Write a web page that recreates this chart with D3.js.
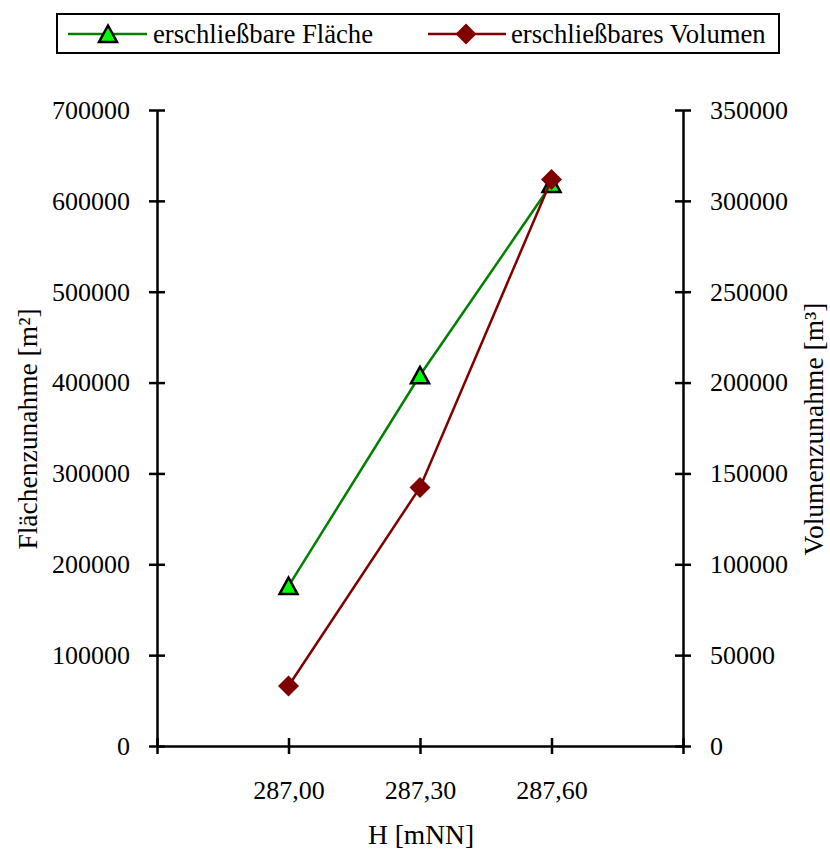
<!DOCTYPE html>
<html>
<head>
<meta charset="utf-8">
<script src="https://cdn.jsdelivr.net/npm/d3@7"></script>
<style>
  html, body { margin: 0; padding: 0; background: #fff; }
  svg { display: block; font-family: "Liberation Serif", "Times New Roman", serif; }
</style>
</head>
<body>
<svg id="chart" width="830" height="852"></svg>
<script>
// Heights above sea level (categories) and the two series
const heights = ["287,00", "287,30", "287,60"];
const areaGain = [176000, 408000, 618500];     // m²
const volumeGain = [33000, 142300, 311700];    // m³
const leftTicks = [0, 100000, 200000, 300000, 400000, 500000, 600000, 700000];
const rightTicks = [0, 50000, 100000, 150000, 200000, 250000, 300000, 350000];
const seriesNames = ["erschließbare Fläche", "erschließbares Volumen"];

const svg = d3.select("#chart");
const plot = { left: 157, right: 683, top: 110, bottom: 746 };
const fontSize = 26;
const titleSize = 27.5;

// Category positions: slots 0..4, data on slots 1..3
const x = d3.scaleLinear().domain([0, heights.length + 1]).range([plot.left, plot.right]);
const yL = d3.scaleLinear().domain([0, 700000]).range([plot.bottom, plot.top]);
const yR = d3.scaleLinear().domain([0, 350000]).range([plot.bottom, plot.top]);

// Left axis
const gL = svg.append("g").attr("transform", `translate(${plot.left},0)`)
  .call(d3.axisLeft(yL).tickValues(leftTicks).tickFormat(d3.format("d")).tickSizeInner(8).tickSizeOuter(0).tickPadding(19));
gL.selectAll(".tick line").attr("x2", 8).attr("x1", -8);
// Right axis
const gR = svg.append("g").attr("transform", `translate(${plot.right},0)`)
  .call(d3.axisRight(yR).tickValues(rightTicks).tickFormat(d3.format("d")).tickSizeInner(8).tickSizeOuter(0).tickPadding(19));
gR.selectAll(".tick line").attr("x1", -8).attr("x2", 8);
// Bottom axis
const xTickVals = d3.range(0, heights.length + 2);
const gB = svg.append("g").attr("transform", `translate(0,${plot.bottom})`)
  .call(d3.axisBottom(x).tickValues(xTickVals)
    .tickFormat(i => (i >= 1 && i <= heights.length) ? heights[i - 1] : "")
    .tickSizeInner(8).tickSizeOuter(0).tickPadding(27));
gB.selectAll(".tick line").attr("y1", -8).attr("y2", 8);

[gL, gR, gB].forEach(g => {
  g.attr("font-family", null);
  g.selectAll(".domain").attr("stroke", "#000").attr("stroke-width", 2.5);
  g.selectAll(".tick line").attr("stroke", "#000").attr("stroke-width", 2.5);
  g.selectAll("text").attr("font-size", fontSize).attr("font-family", "Liberation Serif").attr("fill", "#000");
});

// Axis titles
svg.append("text").attr("transform", `translate(37,${(plot.top + plot.bottom) / 2 + 1}) rotate(-90)`)
  .attr("text-anchor", "middle").attr("font-size", titleSize).text("Flächenzunahme [m²]");
svg.append("text").attr("transform", `translate(823,${(plot.top + plot.bottom) / 2 + 1}) rotate(-90)`)
  .attr("text-anchor", "middle").attr("font-size", titleSize).text("Volumenzunahme [m³]");
svg.append("text").attr("x", (plot.left + plot.right) / 2 + 1).attr("y", 844)
  .attr("text-anchor", "middle").attr("font-size", titleSize).text("H [mNN]");

// Markers
const tri = "M0,-8.5L9,8L-9,8Z";
const dia = (s) => `M0,${-s}L${s},0L0,${s}L${-s},0Z`;

// Area series (left axis)
const lineL = d3.line().x((d, i) => x(i + 1)).y(d => yL(d));
svg.append("path").datum(areaGain).attr("d", lineL)
  .attr("fill", "none").attr("stroke", "#008000").attr("stroke-width", 2.5);
svg.selectAll(".tri").data(areaGain).enter().append("path")
  .attr("transform", (d, i) => `translate(${x(i + 1)},${yL(d)})`)
  .attr("d", tri).attr("fill", "#00ff00").attr("stroke", "#000").attr("stroke-width", 2.5);

// Volume series (right axis)
const lineR = d3.line().x((d, i) => x(i + 1)).y(d => yR(d));
svg.append("path").datum(volumeGain).attr("d", lineR)
  .attr("fill", "none").attr("stroke", "#800000").attr("stroke-width", 2.5);
svg.selectAll(".dia").data(volumeGain).enter().append("path")
  .attr("transform", (d, i) => `translate(${x(i + 1)},${yR(d)})`)
  .attr("d", dia(10.5)).attr("fill", "#800000");

// Legend
const lg = svg.append("g");
lg.append("rect").attr("x", 57).attr("y", 14).attr("width", 722).attr("height", 39)
  .attr("fill", "#fff").attr("stroke", "#000").attr("stroke-width", 2);
lg.append("line").attr("x1", 68).attr("x2", 147).attr("y1", 34).attr("y2", 34)
  .attr("stroke", "#008000").attr("stroke-width", 2.5);
lg.append("path").attr("transform", "translate(108,34)").attr("d", tri)
  .attr("fill", "#00ff00").attr("stroke", "#000").attr("stroke-width", 2.5);
lg.append("text").attr("x", 153).attr("y", 43).attr("font-size", 26.7).text(seriesNames[0]);
lg.append("line").attr("x1", 428).attr("x2", 506).attr("y1", 34).attr("y2", 34)
  .attr("stroke", "#800000").attr("stroke-width", 2.5);
lg.append("path").attr("transform", "translate(466,34)").attr("d", dia(10.5)).attr("fill", "#800000");
lg.append("text").attr("x", 511).attr("y", 43).attr("font-size", 26.7).text(seriesNames[1]);
</script>
</body>
</html>
